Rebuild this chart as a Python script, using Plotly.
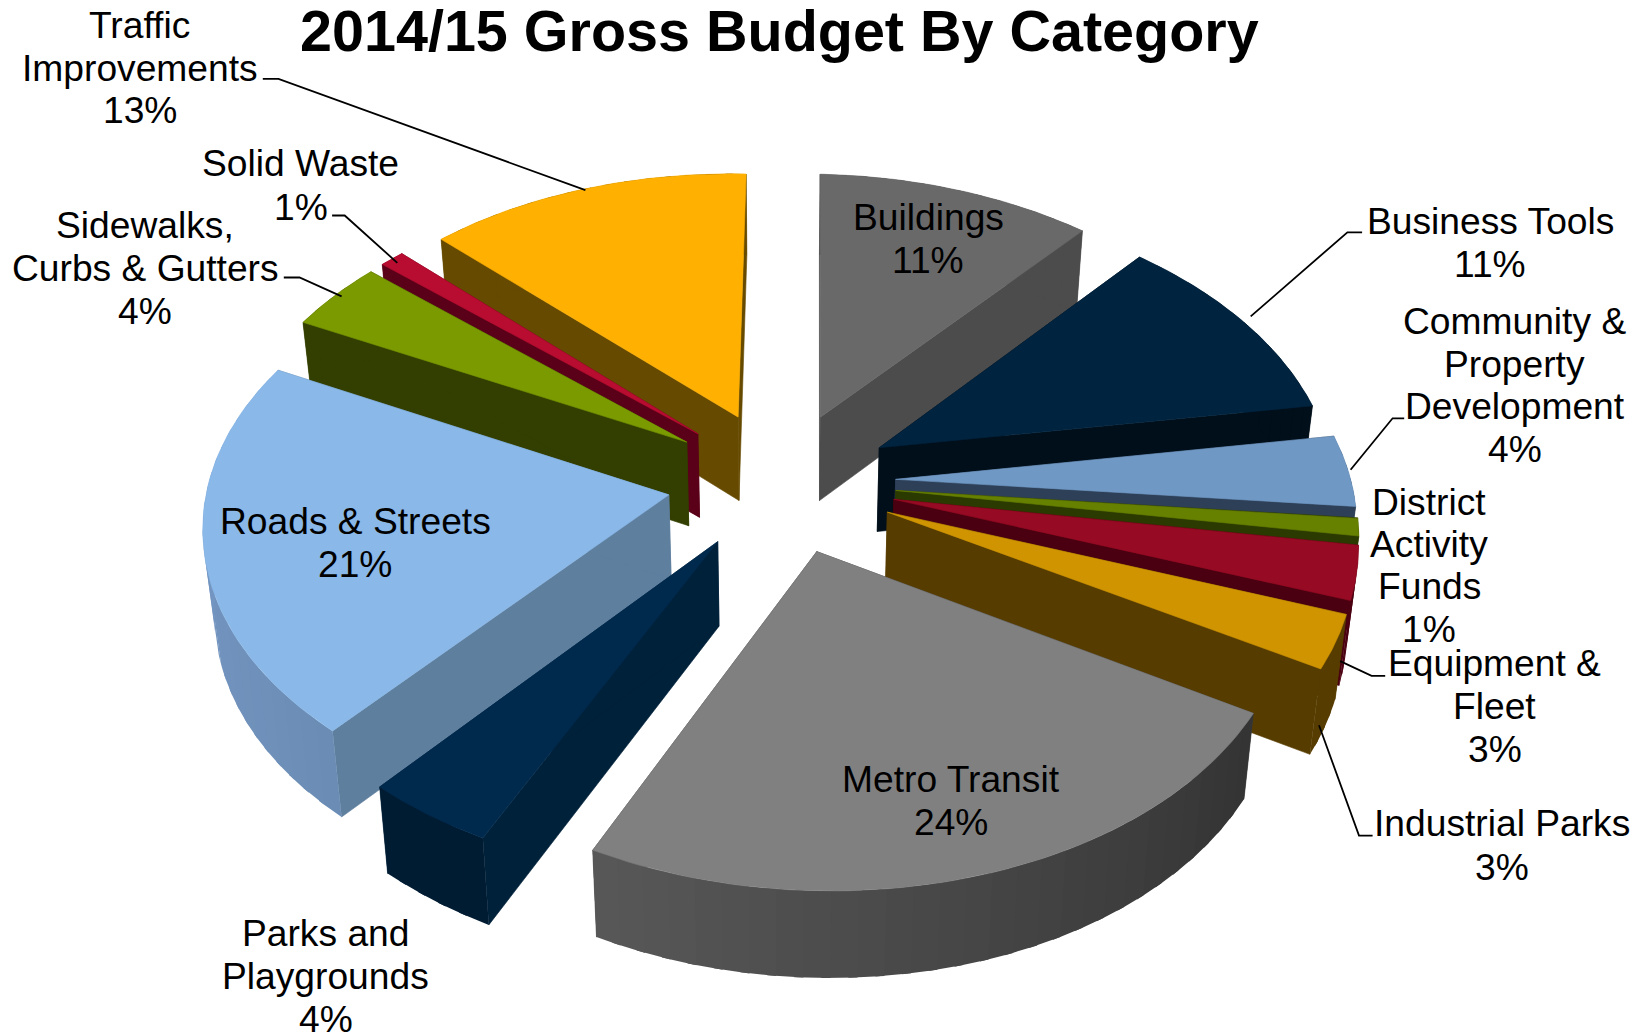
import math
import plotly.graph_objects as go

# Budget shares, clockwise from twelve o'clock
categories = ["Buildings", "Business Tools", "Community & Property Development",
              "District Activity Funds", "Equipment & Fleet", "Industrial Parks",
              "Metro Transit", "Parks and Playgrounds", "Roads & Streets",
              "Sidewalks, Curbs & Gutters", "Solid Waste", "Traffic Improvements"]
shares = [11, 11, 4, 1, 3, 3, 24, 4, 21, 4, 1, 13]

top_colors = ["#696969", "#00243f", "#7098c4", "#668000", "#960a24", "#cf9400",
              "#808080", "#002a4d", "#8ab8e8", "#7a9a00", "#b80d31", "#ffb000"]
wall_colors = ["#4c4c4c", "#000f1a", "#2e4058", "#2b3a00", "#4a0010", "#573c00",
               "#3a3a3a", "#00213a", "#5f7f9f", "#333f00", "#5a0018", "#664a00"]
# Rim shading runs from the low-angle end of a slice to its high-angle end
rim_from = ["#4c4c4c", "#000f1a", "#2e4058", "#2b3a00", "#4a0010", "#573c00",
            "#333333", "#001c33", "#6b8db5", "#333f00", "#5a0018", "#664a00"]
rim_to = ["#4c4c4c", "#000f1a", "#2e4058", "#2b3a00", "#4a0010", "#573c00",
          "#585858", "#001c33", "#7a9ccb", "#333f00", "#5a0018", "#664a00"]

# Pie projection
CX, CY = 781.5, 481.5
AX, AY = 458.0, 284.0
PERSP = 0.1126
PULL = 0.25
DEPTH = 84.0
BASE_SHRINK = 0.98
TILT_X, TILT_Y = 0.015, 0.02


def project(u, v, lower=False):
    w = 1 - PERSP * v
    px, py = AX * u / w, AY * v / w
    x, y = CX + px - TILT_X * py, CY + py + TILT_Y * px
    if lower:
        x = CX + (x - CX) * BASE_SHRINK
        y += DEPTH * (1 + 0.03 * v)
    return x, y


def blend(c1, c2, t):
    a = [int(c1[i:i + 2], 16) for i in (1, 3, 5)]
    b = [int(c2[i:i + 2], 16) for i in (1, 3, 5)]
    return "rgb(%d,%d,%d)" % tuple(round(p + (q - p) * t) for p, q in zip(a, b))


def polygon(points, color, name, stroke=0.6):
    xs = [p[0] for p in points] + [points[0][0]]
    ys = [p[1] for p in points] + [points[0][1]]
    return go.Scatter(x=xs, y=ys, mode="lines", fill="toself", fillcolor=color,
                      line=dict(color=color, width=stroke), hoverinfo="text", text=name,
                      showlegend=False)


total = sum(shares)
slices = []
running = 0
for i, share in enumerate(shares):
    start = running / total * 2 * math.pi
    running += share
    end = running / total * 2 * math.pi
    mid = (start + end) / 2
    slices.append(dict(i=i, start=start, end=end, mid=mid,
                       ou=PULL * math.sin(mid), ov=-PULL * math.cos(mid)))


def rim_point(s, theta, lower=False):
    return project(s["ou"] + math.sin(theta), s["ov"] - math.cos(theta), lower)


fig = go.Figure()

# Paint from the far side of the pie towards the viewer
for s in sorted(slices, key=lambda d: d["ov"]):
    i = s["i"]
    name = f"{categories[i]}: {shares[i]}%"
    apex_top = project(s["ou"], s["ov"])
    apex_low = project(s["ou"], s["ov"], True)
    for theta in (s["start"], s["end"]):
        fig.add_trace(polygon([apex_top, rim_point(s, theta), rim_point(s, theta, True), apex_low],
                              wall_colors[i], name))
    span = s["end"] - s["start"]
    steps = max(2, math.ceil(span / math.radians(3)))
    # Each rim band runs on under the next one so no seams show between them
    for k in range(steps):
        t0 = s["start"] + span * k / steps
        t1 = min(s["end"], s["start"] + span * (k + 1) / steps + math.radians(1))
        band = [rim_point(s, t0 + (t1 - t0) * n / 4) for n in range(5)]
        band += [rim_point(s, t1 - (t1 - t0) * n / 4, True) for n in range(5)]
        fig.add_trace(polygon(band, blend(rim_from[i], rim_to[i], (k + 0.5) / steps), name, 0))
    arc = [rim_point(s, s["start"] + span * k / 60) for k in range(61)]
    fig.add_trace(polygon([apex_top] + arc, top_colors[i], name))

SCALE = 1648 / 1568
FONT = "Liberation Sans, Arial, sans-serif"

# Callout text, one line per annotation: centre x, then (y, text) pairs
callouts = [
    (133, [(24, "Traffic"), (65, "Improvements"), (105, "13%")]),
    (286, [(155, "Solid Waste"), (197, "1%")]),
    (138, [(214, "Sidewalks,"), (255, "Curbs & Gutters"), (296, "4%")]),
    (883, [(206.5, "Buildings"), (247.5, "11%")]),
    (1418, [(210.5, "Business Tools"), (251.5, "11%")]),
    (1441, [(305.5, "Community &"), (346.5, "Property"), (386.5, "Development"), (427.5, "4%")]),
    (1360, [(478, "District"), (518, "Activity"), (558, "Funds"), (598.5, "1%")]),
    (1422, [(631, "Equipment &"), (672, "Fleet"), (713, "3%")]),
    (1429, [(783.5, "Industrial Parks"), (824.5, "3%")]),
    (905, [(741, "Metro Transit"), (782, "24%")]),
    (338, [(496, "Roads & Streets"), (537, "21%")]),
    (310, [(888, "Parks and"), (929, "Playgrounds"), (970, "4%")]),
]
annotations = [dict(x=742 * SCALE, y=29.5 * SCALE, text="<b>2014/15 Gross Budget By Category</b>",
                    showarrow=False, xref="x", yref="y", xanchor="center", yanchor="middle",
                    font=dict(family=FONT, size=57.5, color="#000000"))]
for cx, rows in callouts:
    for y, text in rows:
        annotations.append(dict(x=cx * SCALE, y=y * SCALE, text=text, showarrow=False,
                                xref="x", yref="y", xanchor="center", yanchor="middle",
                                font=dict(family=FONT, size=37.2, color="#000000")))

# Elbowed leader lines between outer labels and their slices
leaders = [
    [(250, 75), (265, 75), (557, 181)],
    [(316, 205), (328, 205), (378, 250)],
    [(270, 264), (285, 264), (325, 282)],
    [(1296, 221), (1282, 221), (1190, 301)],
    [(1336, 398), (1325, 398), (1285, 447)],
    [(1318, 643), (1305, 643), (1275, 629)],
    [(1306, 795), (1293, 795), (1255, 690)],
]
shapes = []
for pts in leaders:
    path = "M " + " L ".join(f"{px * SCALE:.1f} {py * SCALE:.1f}" for px, py in pts)
    shapes.append(dict(type="path", path=path, xref="x", yref="y",
                       line=dict(color="#000000", width=1.8)))

fig.update_layout(
    width=1648, height=1036, margin=dict(l=0, r=0, t=0, b=0),
    paper_bgcolor="#ffffff", plot_bgcolor="#ffffff", showlegend=False,
    xaxis=dict(range=[0, 1648], visible=False, fixedrange=True),
    yaxis=dict(range=[1036, 0], visible=False, fixedrange=True),
    annotations=annotations, shapes=shapes,
)
fig.write_html("out.html", config=dict(displayModeBar=False))
